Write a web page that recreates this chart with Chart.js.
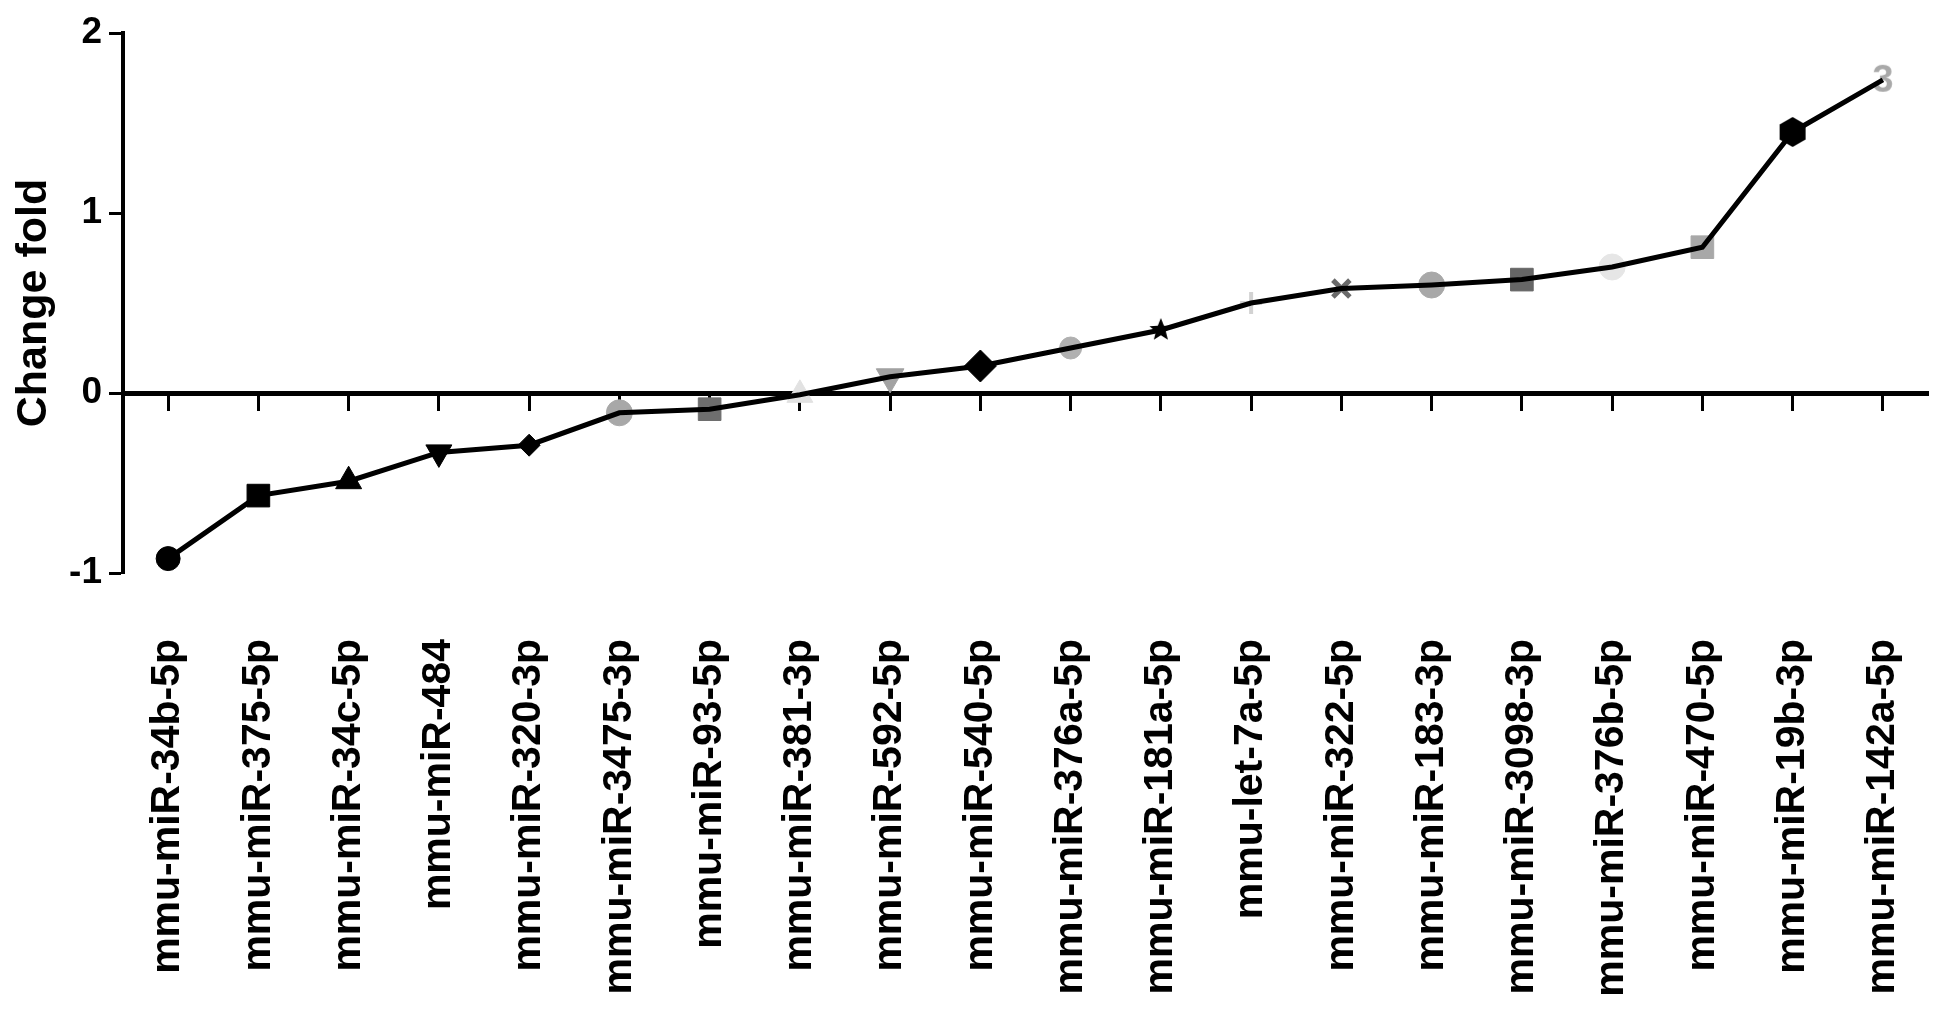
<!DOCTYPE html>
<html>
<head>
<meta charset="utf-8">
<script src="https://cdn.jsdelivr.net/npm/chart.js@4/dist/chart.umd.min.js"></script>
<style>
  html, body { margin: 0; padding: 0; background: #ffffff; }
  #wrap { width: 1948px; height: 1012px; position: relative; }
</style>
</head>
<body>
<div id="wrap"><canvas id="c"></canvas></div>
<script>
// ---- data ----
const categories = [
  'mmu-miR-34b-5p', 'mmu-miR-375-5p', 'mmu-miR-34c-5p', 'mmu-miR-484', 'mmu-miR-320-3p',
  'mmu-miR-3475-3p', 'mmu-miR-93-5p', 'mmu-miR-381-3p', 'mmu-miR-592-5p', 'mmu-miR-540-5p',
  'mmu-miR-376a-5p', 'mmu-miR-181a-5p', 'mmu-let-7a-5p', 'mmu-miR-322-5p', 'mmu-miR-183-3p',
  'mmu-miR-3098-3p', 'mmu-miR-376b-5p', 'mmu-miR-470-5p', 'mmu-miR-19b-3p', 'mmu-miR-142a-5p'
];
const changeFold = [
  -0.92, -0.57, -0.49, -0.33, -0.29,
  -0.11, -0.09, -0.01, 0.09, 0.15,
  0.25, 0.35, 0.50, 0.58, 0.60,
  0.63, 0.70, 0.81, 1.45, 1.74
];
const yTicks = [-1, 0, 1, 2];
const yTitle = 'Change fold';

// ---- marker styles (one per point) ----
function hexagon(size, color) {
  const cv = document.createElement('canvas');
  cv.width = size; cv.height = size;
  const g = cv.getContext('2d');
  g.fillStyle = color;
  g.beginPath();
  const r = size / 2;
  for (let k = 0; k < 6; k++) {
    const a = Math.PI / 6 + k * Math.PI / 3;
    const px = r + r * Math.cos(a), py = r + r * Math.sin(a);
    if (k === 0) g.moveTo(px, py); else g.lineTo(px, py);
  }
  g.closePath(); g.fill();
  return cv;
}
function starShape(size, color) {
  const cv = document.createElement('canvas');
  cv.width = size; cv.height = size;
  const g = cv.getContext('2d');
  g.fillStyle = color;
  g.beginPath();
  const c = size / 2, ro = size / 2, ri = size / 4.6;
  for (let k = 0; k < 10; k++) {
    const a = -Math.PI / 2 + k * Math.PI / 5;
    const r = k % 2 ? ri : ro;
    const px = c + r * Math.cos(a), py = c + r * Math.sin(a);
    if (k === 0) g.moveTo(px, py); else g.lineTo(px, py);
  }
  g.closePath(); g.fill();
  return cv;
}
function glyph(text, color, w, h, font) {
  const cv = document.createElement('canvas');
  cv.width = w; cv.height = h;
  const g = cv.getContext('2d');
  g.fillStyle = color; g.font = font;
  g.textAlign = 'center'; g.textBaseline = 'middle';
  g.fillText(text, w / 2, h / 2 + 2);
  return cv;
}
const markerShapes = [
  'circle', 'rect', 'triangle', 'triangle', 'rectRot',
  'circle', 'rect', 'triangle', 'triangle', 'rectRot',
  'circle', starShape(24, '#000000'), 'cross', 'crossRot', 'circle',
  'rect', 'circle', 'rect', hexagon(30, '#000000'), glyph('3', '#a9a9a9', 30, 42, 'bold 38px "Liberation Sans", Arial, sans-serif')
];
const markerRotation = [0, 0, 0, 180, 0, 0, 0, 0, 180, 0, 0, 0, 0, 0, 0, 0, 0, 0, 0, 0];
const markerColors = [
  '#000000', '#000000', '#000000', '#000000', '#000000',
  '#a8a8a8', '#6e6e6e', '#e2e2e2', '#a2a2a2', '#000000',
  '#b0b0b0', '#000000', '#d2d2d2', '#6a6a6a', '#a8a8a8',
  '#666666', '#e6e6e6', '#a8a8a8', '#000000', '#a9a9a9'
];
const markerRadius = [
  12, 16, 15, 15, 11,
  13, 16, 15, 16, 16,
  11, 12, 11, 12, 13,
  16, 13, 16, 15, 16
];
const markerBorder = [
  1, 1, 1, 1, 1,
  1, 1, 1, 1, 1,
  1, 1, 4, 5, 1,
  1, 1, 1, 1, 1
];

const FONT = '"Liberation Sans", Arial, Helvetica, sans-serif';

new Chart(document.getElementById('c'), {
  type: 'line',
  data: {
    labels: categories,
    datasets: [
      {
        label: 'line',
        data: changeFold,
        borderColor: '#000000',
        borderWidth: 5,
        pointRadius: 0,
        tension: 0,
        fill: false,
        order: 0,
        xAxisID: 'x',
        yAxisID: 'y'
      },
      {
        label: 'markers',
        data: changeFold,
        showLine: false,
        pointStyle: markerShapes,
        rotation: markerRotation,
        pointRadius: markerRadius,
        pointBackgroundColor: markerColors,
        pointBorderColor: markerColors,
        pointBorderWidth: markerBorder,
        order: 1,
        xAxisID: 'x',
        yAxisID: 'y'
      }
    ]
  },
  options: {
    responsive: true,
    maintainAspectRatio: false,
    animation: false,
    events: [],
    layout: { padding: { top: 33, right: 20, left: 0, bottom: 0 } },
    plugins: { legend: { display: false }, tooltip: { enabled: false } },
    scales: {
      x: {
        type: 'category',
        position: 'bottom',
        offset: true,
        border: { display: false },
        grid: { display: false, drawTicks: true, tickLength: 66 },
        ticks: {
          autoSkip: false,
          maxRotation: 90,
          minRotation: 90,
          padding: 0,
          color: '#000000',
          font: { family: FONT, size: 41, weight: 'bold' }
        },
        afterFit: (s) => { s.height = 439; s.paddingLeft = 0; s.paddingRight = 0; }
      },
      x2: {
        type: 'category',
        position: { y: 0 },
        offset: true,
        border: { display: true, color: '#000000', width: 5 },
        grid: { offset: false, drawOnChartArea: false, drawTicks: true, tickLength: 15, tickWidth: 3, tickColor: '#000000' },
        ticks: { display: false },
        afterFit: (s) => { s.height = 0; s.paddingLeft = 0; s.paddingRight = 0; }
      },
      y: {
        position: 'left',
        min: -1,
        max: 2,
        afterBuildTicks: (s) => { s.ticks = yTicks.map(v => ({ value: v })); },
        border: { display: true, color: '#000000', width: 4 },
        grid: { drawOnChartArea: false, drawTicks: true, tickLength: 14, tickWidth: 3, tickColor: '#000000' },
        ticks: {
          padding: 7,
          color: '#000000',
          font: { family: FONT, size: 37, weight: 'bold' }
        },
        title: {
          display: true,
          text: yTitle,
          color: '#000000',
          padding: { top: 8, bottom: 0 },
          font: { family: FONT, size: 43, weight: 'bold' }
        },
        afterFit: (s) => { s.width = 123; }
      }
    }
  }
});
</script>
</body>
</html>
